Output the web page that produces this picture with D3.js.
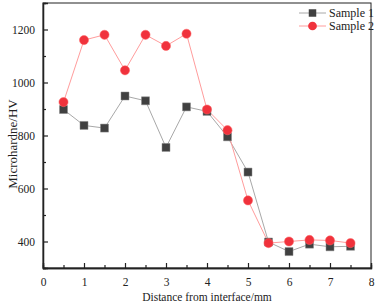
<!DOCTYPE html>
<html>
<head>
<meta charset="utf-8">
<script src="https://cdn.jsdelivr.net/npm/d3@7"></script>
<style>
  body { margin: 0; background: #fff; }
  text { font-family: "Liberation Serif", "Times New Roman", serif; fill: #222; }
</style>
</head>
<body>
<div id="chart"></div>
<script>
// distance from interface (mm)
const distance = [0.5, 1, 1.5, 2, 2.5, 3, 3.5, 4, 4.5, 5, 5.5, 6, 6.5, 7, 7.5]
const sample1 = [898, 838, 828, 949, 931, 755, 908, 891, 795, 662, 398, 362, 390, 380, 382]
const sample2 = [926, 1160, 1180, 1046, 1180, 1138, 1184, 898, 820, 555, 394, 400, 406, 404, 394]
const xTicks = [0, 1, 2, 3, 4, 5, 6, 7, 8]
const yTicks = [400, 600, 800, 1000, 1200]

const width = 378
const height = 306
const margin = { top: 3, left: 43, right: 7, bottom: 38 }
const plotW = width - margin.left - margin.right
const plotH = height - margin.top - margin.bottom

const svg = d3.select('#chart').append('svg')
  .attr('width', width)
  .attr('height', height)

const g = svg.append('g')
  .attr('transform', `translate(${margin.left}, ${margin.top})`)

const x = d3.scaleLinear().domain([0, 8]).range([0, plotW])
const y = d3.scaleLinear().domain([300, 1300]).range([plotH, 0])

// frame
g.append('rect')
  .attr('width', plotW)
  .attr('height', plotH)
  .attr('fill', 'none')
  .attr('stroke', '#222')
  .attr('stroke-width', 1)

// axes, ticks pointing inside
g.append('g')
  .attr('transform', `translate(0, ${plotH})`)
  .call(d3.axisBottom(x).tickValues(xTicks).tickSize(-5).tickPadding(10).tickFormat(d3.format('d')))
g.append('g')
  .attr('transform', `translate(0, ${plotH})`)
  .call(d3.axisBottom(x).tickValues(d3.range(0.5, 8, 1)).tickSize(-3).tickFormat(''))

g.append('g')
  .call(d3.axisLeft(y).tickValues(yTicks).tickSize(-5).tickPadding(8).tickFormat(d3.format('d')))
g.append('g')
  .call(d3.axisLeft(y).tickValues([500, 700, 900, 1100]).tickSize(-3).tickFormat(''))

g.selectAll('.domain').attr('stroke', '#222').attr('stroke-width', 1.3)
g.selectAll('.tick line').attr('stroke', '#222').attr('stroke-width', 1.2)
g.selectAll('.tick text').style('font-size', '11.5px').attr('fill', '#222')

svg.append('text')
  .attr('x', margin.left + plotW / 2)
  .attr('y', 301)
  .attr('text-anchor', 'middle')
  .style('font-size', '11.5px')
  .text('Distance from interface/mm')

svg.append('text')
  .attr('transform', 'translate(17, 144) rotate(-90)')
  .attr('text-anchor', 'middle')
  .style('font-size', '13px')
  .text('Microhardne/HV')

const line = d3.line()
  .x((d, i) => x(distance[i]))
  .y(d => y(d))

const series = [
  { name: 'Sample 1', values: sample1, line: '#a8a8a8', fill: '#404040', shape: 'square' },
  { name: 'Sample 2', values: sample2, line: '#ff9c9c', fill: '#f0323c', shape: 'circle' }
]

series.forEach(s => {
  g.append('path')
    .datum(s.values)
    .attr('d', line)
    .attr('fill', 'none')
    .attr('stroke', s.line)
    .attr('stroke-width', 1)
})

series.forEach(s => {
  const sym = s.shape === 'square' ? d3.symbolSquare : d3.symbolCircle
  const size = s.shape === 'square' ? 64 : 66
  g.selectAll(null)
    .data(s.values)
    .enter()
    .append('path')
    .attr('d', d3.symbol().type(sym).size(size))
    .attr('transform', (d, i) => `translate(${x(distance[i])}, ${y(d)})`)
    .attr('fill', s.fill)
    .attr('stroke', s.shape === 'square' ? '#888' : '#f66')
    .attr('stroke-width', 0.5)
})

// legend
const legend = svg.selectAll('.legend')
  .data(series)
  .enter()
  .append('g')
  .attr('class', 'legend')
  .attr('transform', (d, i) => `translate(299, ${13 + i * 13})`)

legend.append('line')
  .attr('x1', 0)
  .attr('x2', 27)
  .attr('stroke', d => d.line)
  .attr('stroke-width', 1)

legend.append('path')
  .attr('d', d => d3.symbol().type(d.shape === 'square' ? d3.symbolSquare : d3.symbolCircle).size(d.shape === 'square' ? 56 : 60)())
  .attr('transform', 'translate(13.5, 0)')
  .attr('fill', d => d.fill)

legend.append('text')
  .attr('x', 30)
  .attr('dy', '0.35em')
  .style('font-size', '12px')
  .text(d => d.name)
</script>
</body>
</html>
